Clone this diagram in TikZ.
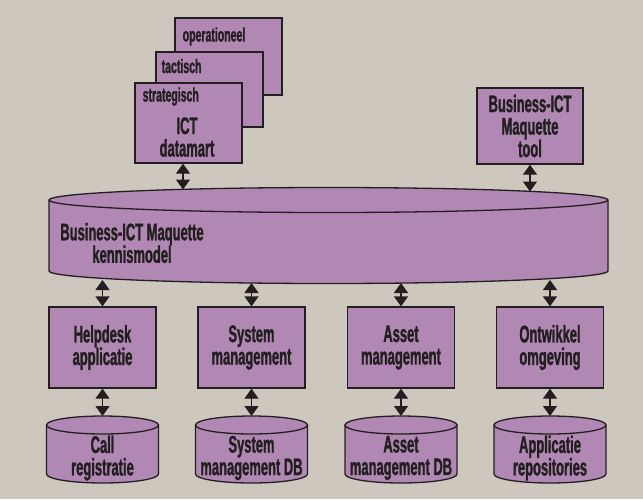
\documentclass[tikz,border=0pt]{standalone}
\usepackage{fontspec}
\newfontfamily\cond[FakeStretch=0.54,FakeBold=1.2]{Liberation Sans}
\usetikzlibrary{arrows.meta}
\definecolor{bg}{RGB}{206,199,189}
\definecolor{lila}{RGB}{177,136,180}
\definecolor{ink}{RGB}{35,31,32}
\tikzset{
  big/.style={text=ink, font=\cond\bfseries\fontsize{24}{22.5}\selectfont},
  box/.style={big, draw=ink, fill=lila, line width=1.3pt, inner sep=0pt, align=center},
  lbl/.style={big, inner sep=0pt, align=center},
  smalllbl/.style={text=ink, inner sep=0pt, font=\cond\bfseries\fontsize{19.5}{19}\selectfont},
  drumline/.style={draw=ink, line width=1.3pt},
  biarrow/.style={draw=ink, line width=1.3pt, {Triangle[width=14pt,length=10pt]}-{Triangle[width=14pt,length=10pt]}},
}
\newcommand\drum[6]{% name, cx, a, ytop, ybot, b
  \fill[lila] ({#2-#3},#4) -- ({#2-#3},#5) arc[start angle=180,end angle=360,x radius=#3pt,y radius=#6pt] -- ({#2+#3},#4) -- cycle;
  \fill[lila] (#2,#4) ellipse[x radius=#3pt,y radius=#6pt];
  \draw[drumline] ({#2-#3},#4) -- ({#2-#3},#5) arc[start angle=180,end angle=360,x radius=#3pt,y radius=#6pt] -- ({#2+#3},#4);
  \draw[drumline] (#2,#4) ellipse[x radius=#3pt,y radius=#6pt];
  \coordinate (#1top) at (#2,{#4-#6});
}
\begin{document}
\begin{tikzpicture}[x=1pt,y=-1pt]
  \fill[bg] (0,0) rectangle (643,499);
  \useasboundingbox (0,0) rectangle (643,499);

  % datamart stack
  \node[box, minimum width=107pt, minimum height=77pt] (opbox) at (228.5,56.5) {};
  \node[box, minimum width=107pt, minimum height=75pt] (tacbox) at (209.5,89.5) {};
  \node[box, minimum width=107pt, minimum height=80pt] (strbox) at (188.5,123) {};
  \node[smalllbl, anchor=base west] (oplbl) at (182.5,41.5) {operationeel};
  \node[smalllbl, anchor=base west] (taclbl) at (161.5,73) {tactisch};
  \node[smalllbl, anchor=base west] (strlbl) at (142.5,101.5) {strategisch};
  \node[lbl] (ictlbl) at (187,137) {ICT\\datamart};

  % tool box
  \node[box, minimum width=106pt, minimum height=76pt] (tool) at (530,126) {Business-ICT\\Maquette\\tool};

  % kennismodel cylinder
  \drum{kb}{328.5}{279.5}{200}{271}{12.5}
  \node[lbl] (kblbl) at (132,243) {Business-ICT Maquette\\kennismodel};
  \coordinate (kbt1) at (183,189.5);
  \coordinate (kbt2) at (530,191.5);
  \coordinate (kbb1) at (102.5,280);
  \coordinate (kbb2) at (251.5,283);
  \coordinate (kbb3) at (401,283);
  \coordinate (kbb4) at (550,280);

  % application boxes
  \node[box, minimum width=107pt, minimum height=81pt] (help) at (102.5,347.5) {Helpdesk\\applicatie};
  \node[box, minimum width=107pt, minimum height=81pt] (sysm) at (251.5,347.5) {System\\management};
  \node[box, minimum width=107pt, minimum height=81pt] (asset) at (401,347.5) {Asset\\management};
  \node[box, minimum width=107pt, minimum height=81pt] (ontw) at (550,347.5) {Ontwikkel\\omgeving};

  % databases
  \drum{c1}{102.5}{56}{425}{474}{9}
  \drum{c2}{251.5}{56}{425}{474}{9}
  \drum{c3}{401}{56}{425}{474}{9}
  \drum{c4}{550}{56}{425}{474}{9}
  \node[lbl] (c1lbl) at (102.5,458) {Call\\registratie};
  \node[lbl] (c2lbl) at (251.5,458) {System\\management DB};
  \node[lbl] (c3lbl) at (401,458) {Asset\\management DB};
  \node[lbl] (c4lbl) at (550,458) {Applicatie\\repositories};

  % connectors
  \draw[biarrow] (strbox.south -| kbt1) -- (kbt1);
  \draw[biarrow] (tool.south) -- (kbt2);
  \draw[biarrow] (kbb1) -- (help.north);
  \draw[biarrow] (kbb2) -- (sysm.north);
  \draw[biarrow] (kbb3) -- (asset.north);
  \draw[biarrow] (kbb4) -- (ontw.north);
  \draw[biarrow] (help.south) -- (c1top);
  \draw[biarrow] (sysm.south) -- (c2top);
  \draw[biarrow] (asset.south) -- (c3top);
  \draw[biarrow] (ontw.south) -- (c4top);
\end{tikzpicture}
\end{document}
